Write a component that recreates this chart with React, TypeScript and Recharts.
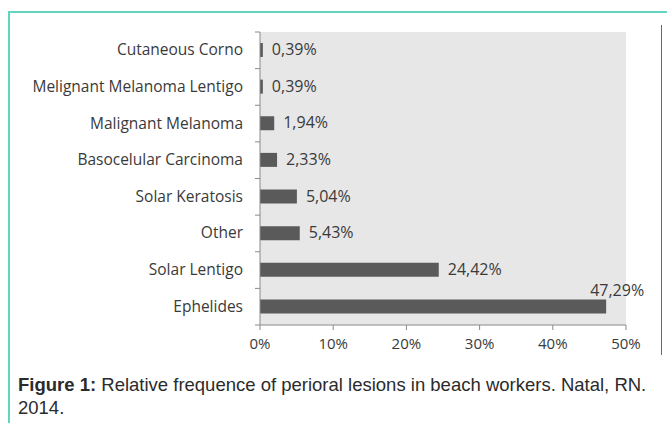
import React from 'react';
import { BarChart, Bar, XAxis, YAxis, CartesianGrid, LabelList } from 'recharts';

const lesions = [
  'Cutaneous Corno',
  'Melignant Melanoma Lentigo',
  'Malignant Melanoma',
  'Basocelular Carcinoma',
  'Solar Keratosis',
  'Other',
  'Solar Lentigo',
  'Ephelides',
];
const frequencies = [0.39, 0.39, 1.94, 2.33, 5.04, 5.43, 24.42, 47.29];
const xTicks = [0, 10, 20, 30, 40, 50];

const data = lesions.map((name, i) => ({ name, value: frequencies[i] }));

const fmt = (v: number) => v.toFixed(2).replace('.', ',') + '%';

const LABEL_FONT = '"Open Sans", Lato, sans-serif';

const CategoryTick = (props: any) => {
  const { x, y, payload, index } = props;
  const half = payload.offset || 0;
  return (
    <g>
      <line x1={x - 5} x2={x} y1={y - half} y2={y - half} stroke="#8a8a8a" />
      {index === lesions.length - 1 && (
        <line x1={x - 5} x2={x} y1={y + half} y2={y + half} stroke="#8a8a8a" />
      )}
      <text x={x - 17} y={y} dy={5} textAnchor="end" fill="#3a3a3a" fontSize={15.5} fontFamily={LABEL_FONT}>
        {payload.value}
      </text>
    </g>
  );
};

const ValueLabel = (props: any) => {
  const { x, y, width, height, value } = props;
  const end = x + width;
  // Excel pushes the label above the bar when it would leave the plot
  const above = value > 40;
  return (
    <text
      x={above ? end - 16 : end + 9}
      y={above ? y - 8 : y + height / 2}
      dy={5}
      fill="#3a3a3a"
      fontSize={16}
      fontFamily={LABEL_FONT}
    >
      {fmt(value)}
    </text>
  );
};

export default function App() {
  return (
    <div style={{ position: 'relative', width: 667, height: 423, background: '#fff', overflow: 'hidden' }}>
      <style>{`body{margin:0}`}</style>
      <div style={{ position: 'absolute', left: 8, top: 11, right: 0, height: 2, background: '#63d4c2' }} />
      <div style={{ position: 'absolute', left: 8, top: 11, bottom: 0, width: 2, background: '#63d4c2' }} />
      <div style={{ position: 'absolute', left: 661, top: 25, height: 330, width: 1, background: '#6a6a6a' }} />
      <div style={{ position: 'absolute', left: 0, top: 0 }}>
        <BarChart
          width={667}
          height={360}
          data={data}
          layout="vertical"
          margin={{ top: 32, right: 41, bottom: 5, left: 0 }}
          barCategoryGap={0}
        >
          <CartesianGrid horizontal={false} vertical={false} fill="#e7e7e7" />
          <XAxis
            type="number"
            domain={[0, 50]}
            ticks={xTicks}
            tickFormatter={(v) => `${v}%`}
            axisLine={{ stroke: '#8a8a8a' }}
            tickLine={{ stroke: '#8a8a8a' }}
            tickSize={5}
            tickMargin={8}
            height={30}
            tick={{ fill: '#3a3a3a', fontSize: 15, fontFamily: LABEL_FONT }}
          />
          <YAxis
            type="category"
            dataKey="name"
            width={260}
            axisLine={{ stroke: '#8a8a8a' }}
            tickLine={false}
            tickSize={0}
            tickMargin={0}
            tick={<CategoryTick />}
            interval={0}
          />
          <Bar dataKey="value" fill="#5a5a5a" barSize={14} isAnimationActive={false}>
            <LabelList dataKey="value" content={<ValueLabel />} />
          </Bar>
        </BarChart>
      </div>
      <div
        style={{
          position: 'absolute',
          left: 18,
          top: 373,
          width: 645,
          fontFamily: '"Liberation Sans", Arial, sans-serif',
          fontSize: 18.5,
          lineHeight: '23px',
          color: '#2b2b2b',
        }}
      >
        <div>
          <b>Figure 1:</b> Relative frequence of perioral lesions in beach workers. Natal, RN.
        </div>
        <div>2014.</div>
      </div>
    </div>
  );
}
